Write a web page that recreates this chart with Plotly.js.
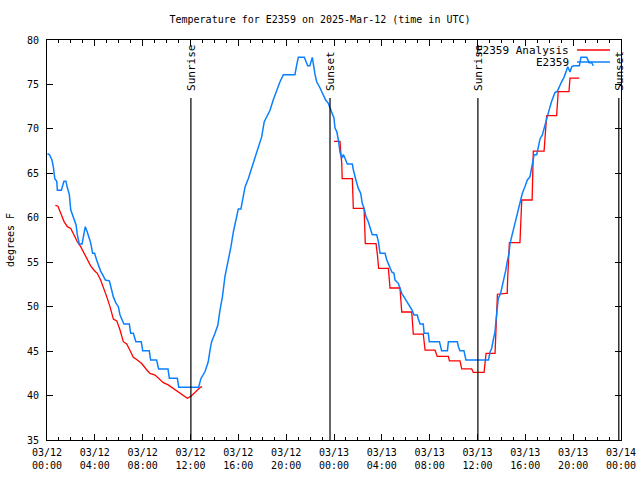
<!DOCTYPE html>
<html><head><meta charset="utf-8">
<script src="https://cdn.plot.ly/plotly-3.0.1.min.js"></script>
<style>html,body{margin:0;padding:0;background:#fff}</style>
</head><body><div id="chart" style="width:640px;height:480px"></div>
<script>
const chartTitle = 'Temperature for E2359 on 2025-Mar-12 (time in UTC)';
const obsName = 'E2359';
const anaName = 'E2359 Analysis';

const blueTimes = [
'2025-03-12 00:02','2025-03-12 00:12','2025-03-12 00:25','2025-03-12 00:32','2025-03-12 00:39','2025-03-12 00:49','2025-03-12 00:52',
'2025-03-12 01:12','2025-03-12 01:25','2025-03-12 01:35','2025-03-12 01:42','2025-03-12 01:52','2025-03-12 01:59',
'2025-03-12 02:12','2025-03-12 02:26','2025-03-12 02:32','2025-03-12 02:42','2025-03-12 02:56',
'2025-03-12 03:06','2025-03-12 03:12','2025-03-12 03:22','2025-03-12 03:32','2025-03-12 03:39','2025-03-12 03:49','2025-03-12 03:59',
'2025-03-12 04:09','2025-03-12 04:19','2025-03-12 04:29','2025-03-12 04:39','2025-03-12 04:53',
'2025-03-12 05:13','2025-03-12 05:20','2025-03-12 05:33','2025-03-12 05:46','2025-03-12 05:58',
'2025-03-12 06:06','2025-03-12 06:26','2025-03-12 06:53','2025-03-12 07:00','2025-03-12 07:13','2025-03-12 07:26','2025-03-12 07:53',
'2025-03-12 08:00','2025-03-12 08:33','2025-03-12 08:40','2025-03-12 09:10','2025-03-12 09:20','2025-03-12 10:07','2025-03-12 10:14',
'2025-03-12 10:54','2025-03-12 11:01','2025-03-12 12:41','2025-03-12 12:52',
'2025-03-12 13:13','2025-03-12 13:29','2025-03-12 13:38','2025-03-12 13:46','2025-03-12 14:03','2025-03-12 14:17','2025-03-12 14:28',
'2025-03-12 14:40','2025-03-12 14:53','2025-03-12 15:03','2025-03-12 15:13','2025-03-12 15:23','2025-03-12 15:35','2025-03-12 15:47',
'2025-03-12 16:00','2025-03-12 16:13','2025-03-12 16:25','2025-03-12 16:34','2025-03-12 16:50','2025-03-12 17:07','2025-03-12 17:24',
'2025-03-12 17:40','2025-03-12 17:57','2025-03-12 18:10','2025-03-12 18:22','2025-03-12 18:39','2025-03-12 18:55','2025-03-12 19:13',
'2025-03-12 19:29','2025-03-12 19:46','2025-03-12 20:44','2025-03-12 20:53','2025-03-12 21:01','2025-03-12 21:31','2025-03-12 21:48',
'2025-03-12 21:59','2025-03-12 22:11','2025-03-12 22:25','2025-03-12 22:33','2025-03-12 22:50','2025-03-12 23:07','2025-03-12 23:18',
'2025-03-12 23:31','2025-03-12 23:43','2025-03-12 23:53',
'2025-03-13 00:00','2025-03-13 00:05','2025-03-13 00:14','2025-03-13 00:22','2025-03-13 00:30','2025-03-13 00:39','2025-03-13 00:47',
'2025-03-13 00:55','2025-03-13 01:07','2025-03-13 01:32','2025-03-13 01:37','2025-03-13 01:50','2025-03-13 02:02','2025-03-13 02:14',
'2025-03-13 02:22','2025-03-13 02:31','2025-03-13 02:41','2025-03-13 02:52','2025-03-13 03:01','2025-03-13 03:12','2025-03-13 03:34',
'2025-03-13 03:43','2025-03-13 03:51','2025-03-13 04:16','2025-03-13 04:25','2025-03-13 04:41','2025-03-13 04:50','2025-03-13 05:01',
'2025-03-13 05:06','2025-03-13 05:23','2025-03-13 05:31','2025-03-13 05:40','2025-03-13 05:51','2025-03-13 06:01','2025-03-13 06:13',
'2025-03-13 06:21','2025-03-13 06:33','2025-03-13 06:41','2025-03-13 06:58','2025-03-13 07:03','2025-03-13 07:12','2025-03-13 07:28',
'2025-03-13 07:32','2025-03-13 07:53','2025-03-13 07:58','2025-03-13 08:49','2025-03-13 08:55','2025-03-13 09:00','2025-03-13 09:29',
'2025-03-13 09:34','2025-03-13 10:19','2025-03-13 10:24','2025-03-13 10:32','2025-03-13 10:52','2025-03-13 11:02','2025-03-13 12:55',
'2025-03-13 13:03','2025-03-13 13:11','2025-03-13 13:19','2025-03-13 13:28','2025-03-13 13:33','2025-03-13 13:37','2025-03-13 13:44',
'2025-03-13 13:56','2025-03-13 14:04','2025-03-13 14:13','2025-03-13 14:22','2025-03-13 14:29','2025-03-13 14:38','2025-03-13 14:43',
'2025-03-13 14:52','2025-03-13 15:00','2025-03-13 15:08','2025-03-13 15:17','2025-03-13 15:25','2025-03-13 15:37','2025-03-13 15:45',
'2025-03-13 15:58','2025-03-13 16:10','2025-03-13 16:23','2025-03-13 16:32','2025-03-13 16:44','2025-03-13 16:57','2025-03-13 17:05',
'2025-03-13 17:14','2025-03-13 17:25','2025-03-13 17:34','2025-03-13 17:44','2025-03-13 17:55','2025-03-13 18:04','2025-03-13 18:12',
'2025-03-13 18:20','2025-03-13 18:29','2025-03-13 18:40','2025-03-13 18:50','2025-03-13 19:02','2025-03-13 19:14','2025-03-13 19:24',
'2025-03-13 19:33','2025-03-13 19:44','2025-03-13 19:53','2025-03-13 20:04','2025-03-13 20:31','2025-03-13 20:39','2025-03-13 21:08',
'2025-03-13 21:20','2025-03-13 21:33','2025-03-13 21:41'
];
const blueTemps = [
67.2,67.1,66.5,65.7,64.4,64.1,63.1,
63.1,64.1,64.1,63.4,62.6,60.9,
60.1,59.2,58.1,57.05,57.05,
58.3,59.0,58.4,57.7,57.2,56.0,56.0,
55.25,54.5,54.0,53.6,53.0,
52.9,52.25,51.1,50.4,50.0,
49.1,48.05,48.05,47.0,47.0,46.06,46.06,
45.05,45.05,44.0,44.0,43.0,43.0,41.94,
41.94,40.93,40.93,41.9,
42.7,43.8,45.1,46.06,47.0,47.9,49.6,
51.1,53.4,54.5,55.25,56.75,58.4,59.75,
61.0,61.0,62.4,63.5,64.4,65.6,66.9,
68.0,69.1,70.8,71.4,72.1,73.25,74.4,
75.3,76.1,76.1,77.2,78.05,78.05,77.1,
77.1,78.05,76.1,75.3,74.6,73.8,73.25,
72.9,72.1,71.6,
71.2,70.1,69.7,68.75,67.4,66.7,67.1,
66.7,66.05,66.05,65.4,64.25,63.3,62.75,
61.6,61.05,60.1,59.55,59.0,58.1,58.1,
57.3,56.0,56.0,55.25,54.5,53.9,53.75,
53.0,52.6,52.1,51.5,51.1,50.75,50.2,
50.0,49.55,49.05,49.05,48.6,48.05,48.05,
47.0,47.0,46.06,46.06,45.5,45.05,45.05,
46.06,46.06,45.5,45.05,45.05,44.0,44.0,
44.9,45.3,46.25,47.2,48.5,49.6,50.9,
51.5,52.25,53.2,54.1,55.05,56.0,57.1,
57.9,58.6,59.4,60.1,61.05,61.9,62.75,
63.5,64.25,64.6,65.75,67.1,67.1,68.0,
68.9,69.3,70.1,70.8,71.9,72.5,73.1,
73.6,74.1,74.2,74.75,75.3,75.8,76.4,
77.0,76.4,77.0,77.1,77.1,78.05,78.05,
77.45,77.45,77.1
];

const redTimes = [
'2025-03-12 00:42','2025-03-12 00:55','2025-03-12 01:09','2025-03-12 01:25','2025-03-12 01:42','2025-03-12 01:59',
'2025-03-12 02:15','2025-03-12 02:32','2025-03-12 02:49','2025-03-12 03:06','2025-03-12 03:22','2025-03-12 03:39',
'2025-03-12 03:56','2025-03-12 04:12','2025-03-12 04:29','2025-03-12 04:42','2025-03-12 05:00','2025-03-12 05:16',
'2025-03-12 05:33','2025-03-12 05:50','2025-03-12 06:06','2025-03-12 06:23','2025-03-12 06:40','2025-03-12 06:56',
'2025-03-12 07:13','2025-03-12 07:33','2025-03-12 07:55','2025-03-12 08:20','2025-03-12 08:37','2025-03-12 09:02',
'2025-03-12 09:27','2025-03-12 09:44','2025-03-12 10:08','2025-03-12 10:34','2025-03-12 10:59','2025-03-12 11:24',
'2025-03-12 11:44','2025-03-12 12:01','2025-03-12 12:23','2025-03-12 12:48','2025-03-12 12:58',
'2025-03-12 18:00',
'2025-03-13 00:00','2025-03-13 00:30','2025-03-13 00:34','2025-03-13 00:39','2025-03-13 00:41','2025-03-13 01:32',
'2025-03-13 01:37','2025-03-13 02:31','2025-03-13 02:37','2025-03-13 03:31','2025-03-13 03:38','2025-03-13 03:44',
'2025-03-13 04:33','2025-03-13 04:41','2025-03-13 05:31','2025-03-13 05:40','2025-03-13 06:30','2025-03-13 06:38',
'2025-03-13 07:28','2025-03-13 07:37','2025-03-13 08:27','2025-03-13 08:38','2025-03-13 09:34','2025-03-13 09:39',
'2025-03-13 10:32','2025-03-13 10:41','2025-03-13 11:31','2025-03-13 11:39','2025-03-13 12:33','2025-03-13 12:38',
'2025-03-13 12:43','2025-03-13 13:28','2025-03-13 13:33','2025-03-13 13:37','2025-03-13 13:40','2025-03-13 14:23',
'2025-03-13 14:29','2025-03-13 14:31','2025-03-13 14:33','2025-03-13 14:40','2025-03-13 15:33','2025-03-13 15:37',
'2025-03-13 15:42','2025-03-13 16:34','2025-03-13 16:35','2025-03-13 16:40','2025-03-13 17:34','2025-03-13 17:39',
'2025-03-13 17:47','2025-03-13 18:37','2025-03-13 18:40','2025-03-13 18:45','2025-03-13 19:39','2025-03-13 19:44',
'2025-03-13 20:31'
];
const redTemps = [
61.4,61.3,60.5,59.6,59.0,58.8,
58.1,57.3,56.75,56.0,55.25,54.6,
54.1,53.75,53.0,52.25,51.1,50.0,
48.6,48.4,47.4,46.06,45.8,45.1,
44.3,44.0,43.6,42.9,42.5,42.3,
41.75,41.45,41.2,40.8,40.4,40.0,
39.7,39.9,40.4,40.9,41.0,
null,
68.6,68.6,67.4,66.1,64.4,64.4,
61.05,61.05,57.1,57.1,55.8,54.3,
54.3,52.1,52.1,49.4,49.4,46.9,
46.9,45.1,45.1,44.4,44.4,43.9,
43.9,43.0,43.0,42.6,42.6,43.7,
44.75,44.75,47.0,49.6,51.4,51.5,
51.5,53.0,54.5,57.2,57.2,59.75,
62.0,62.0,64.25,67.5,67.5,69.3,
71.5,71.5,72.5,74.2,74.2,75.7,
75.7
];

const sunTimes = ['2025-03-12 12:02','2025-03-12 23:40','2025-03-13 12:02','2025-03-13 23:49'];
const sunLabels = ['Sunrise','Sunset','Sunrise','Sunset'];
const yTicks = [35,40,45,50,55,60,65,70,75,80];

const FONT = 'DejaVu Sans Mono, monospace';
const sunTop = 73.47;

const traces = [
  {x: redTimes, y: redTemps, name: anaName, type: 'scatter', mode: 'lines',
   line: {color: '#ff0000', width: 1.3}, connectgaps: false, hoverinfo: 'skip'},
  {x: blueTimes, y: blueTemps, name: obsName, type: 'scatter', mode: 'lines',
   line: {color: '#0a80ff', width: 1.5}, hoverinfo: 'skip'}
];

const shapes = sunTimes.map(t => ({type: 'line', xref: 'x', yref: 'y', x0: t, x1: t, y0: 35, y1: sunTop,
  line: {color: '#000', width: 1.2}}));
const annotations = sunTimes.map((t, i) => ({x: t, y: sunTop, xref: 'x', yref: 'y', text: sunLabels[i],
  textangle: -90, showarrow: false, xanchor: 'center', yanchor: 'bottom', yshift: 5,
  font: {family: FONT, size: 11, color: '#000'}}));

// legend (gnuplot style: text then sample)
const legendRows = [{name: anaName, color: '#ff0000', y: 0.975}, {name: obsName, color: '#0a80ff', y: 0.945}];
legendRows.forEach(r => {
  annotations.push({xref: 'paper', yref: 'paper', x: 0.912, y: r.y, text: r.name, showarrow: false,
    xanchor: 'right', yanchor: 'middle', font: {family: FONT, size: 11, color: '#000'}, borderpad: 0});
  shapes.push({type: 'line', xref: 'paper', yref: 'paper', x0: 0.9234, x1: 0.9808, y0: r.y, y1: r.y,
    line: {color: r.color, width: 1.3}});
});

const layout = {
  width: 640, height: 480,
  margin: {l: 47, r: 19, t: 40, b: 40, pad: 0},
  paper_bgcolor: '#fff', plot_bgcolor: '#fff',
  showlegend: false,
  title: {text: chartTitle, font: {family: FONT, size: 10, color: '#000'}, x: 0.5, xanchor: 'center', y: 0.96, yanchor: 'middle'},
  font: {family: FONT, size: 10, color: '#000'},
  xaxis: {type: 'date', range: ['2025-03-12 00:00', '2025-03-14 00:00'],
    dtick: 4 * 3600 * 1000, tick0: '2025-03-12 00:00', tickformat: '%m/%d<br>%H:%M',
    ticks: 'inside', ticklen: 6, tickcolor: '#000', tickwidth: 1, ticklabelstandoff: 3,
    minor: {dtick: 3600 * 1000, ticks: 'inside', ticklen: 3, tickcolor: '#000'},
    showline: true, linecolor: '#000', linewidth: 1, mirror: 'ticks', showgrid: false, zeroline: false,
    tickfont: {family: FONT, size: 10, color: '#000'}, fixedrange: true},
  yaxis: {range: [35, 80], tickvals: yTicks, ticktext: yTicks.map(String),
    ticks: 'inside', ticklen: 6, tickcolor: '#000', tickwidth: 1, ticklabelstandoff: 5,
    showline: true, linecolor: '#000', linewidth: 1, mirror: 'ticks', showgrid: false, zeroline: false,
    tickfont: {family: FONT, size: 10, color: '#000'},
    title: {text: 'degrees F', font: {family: FONT, size: 10, color: '#000'}, standoff: 10}, fixedrange: true},
  shapes: shapes,
  annotations: annotations
};

Plotly.newPlot('chart', traces, layout, {displayModeBar: false, staticPlot: true});
</script>
</body></html>
